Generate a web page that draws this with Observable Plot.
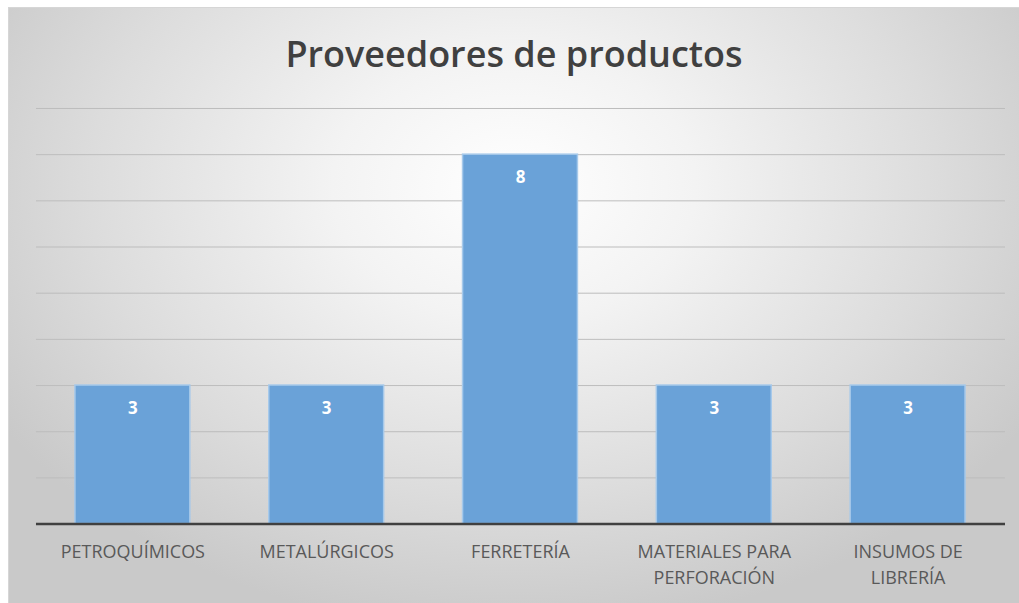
<!DOCTYPE html>
<html>
<head>
<meta charset="utf-8">
<script src="https://cdn.jsdelivr.net/npm/d3@7"></script>
<script src="https://cdn.jsdelivr.net/npm/@observablehq/plot@0.6"></script>
<style>
  html, body { margin: 0; padding: 0; background: #ffffff; }
  #frame {
    position: absolute; left: 8px; top: 7px; width: 1011px; height: 596px;
    box-sizing: border-box; border: 1px solid #d6d6d6; border-right: none; border-bottom: none;
    background: radial-gradient(ellipse 60% 75% at 50% 30%, #ffffff 0%, #f3f3f3 30%, #dcdcdc 70%, #c9c9c9 100%);
    overflow: hidden;
  }
  #title {
    height: 90px; line-height: 92px; text-align: center;
    font-family: "Open Sans", sans-serif; font-weight: 600; font-size: 36px; color: #404040;
  }
  #chart svg { display: block; background: transparent; }
</style>
</head>
<body>
<div id="frame">
  <div id="title">Proveedores de productos</div>
  <div id="chart"></div>
</div>
<script>
const categories = ["PETROQUÍMICOS", "METALÚRGICOS", "FERRETERÍA", "MATERIALES PARA\nPERFORACIÓN", "INSUMOS DE\nLIBRERÍA"];
const values = [3, 3, 8, 3, 3];
const yTicks = [0, 1, 2, 3, 4, 5, 6, 7, 8, 9];

const data = categories.map((c, i) => ({category: c, value: values[i]}));

const chart = Plot.plot({
  width: 1011,
  height: 506,
  marginTop: 10,
  marginBottom: 80,
  marginLeft: 27,
  marginRight: 14,
  style: {background: "transparent", fontFamily: "Open Sans, sans-serif"},
  x: {domain: categories, paddingInner: 0.407, paddingOuter: 0.2035, label: null},
  y: {domain: [0, 9], axis: null},
  marks: [
    Plot.gridY(yTicks.filter(d => d > 0), {stroke: "#bdbdbd", strokeOpacity: 1, strokeWidth: 1}),
    Plot.barY(data, {x: "category", y: "value", fill: "#6aa2d8", stroke: "#a6c9ea", strokeWidth: 1.5}),
    Plot.ruleY([0], {stroke: "#404040", strokeWidth: 2.5}),
    Plot.text(data, {x: "category", y: "value", text: d => String(d.value), dy: 23, fill: "#ffffff", fontWeight: "bold", fontSize: 17}),
    Plot.axisX({tickSize: 0, tickPadding: 15, fontSize: 18, lineHeight: 1.45, fill: "#595959", label: null})
  ]
});
document.getElementById("chart").appendChild(chart);
</script>
</body>
</html>
